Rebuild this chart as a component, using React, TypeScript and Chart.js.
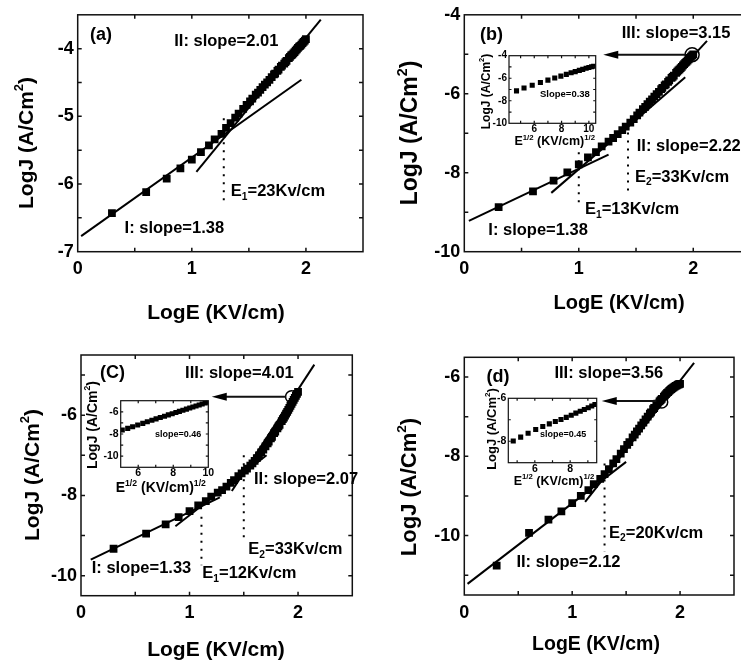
import React, { useEffect, useRef } from "react";
import { Chart, registerables } from "chart.js";

Chart.register(...registerables);

const FONT = '"Liberation Sans", Arial, Helvetica, sans-serif';

// ---------------- data ----------------
// shared field axis: LogE (KV/cm)
const logE = [
  0.30, 0.60, 0.78, 0.90, 1.00, 1.08, 1.15, 1.20, 1.26,
  1.30, 1.34, 1.38, 1.41, 1.45, 1.48, 1.51, 1.53, 1.56, 1.58,
  1.60, 1.62, 1.64, 1.66, 1.68, 1.70, 1.72, 1.73, 1.75, 1.76,
  1.78, 1.79, 1.81, 1.82, 1.83, 1.85, 1.86, 1.87, 1.88, 1.89,
  1.90, 1.91, 1.92, 1.93, 1.94, 1.95, 1.96, 1.97, 1.98, 1.99, 2.00,
];

const logJ_a = [
  -6.43, -6.12, -5.92, -5.77, -5.64, -5.53, -5.43, -5.34, -5.26,
  -5.17, -5.10, -5.02, -4.96, -4.89, -4.83, -4.78, -4.74, -4.68, -4.65,
  -4.61, -4.57, -4.53, -4.50, -4.46, -4.42, -4.38, -4.37, -4.33, -4.31,
  -4.27, -4.25, -4.22, -4.20, -4.18, -4.14, -4.12, -4.10, -4.09, -4.07,
  -4.05, -4.03, -4.01, -3.99, -3.97, -3.96, -3.94, -3.92, -3.90, -3.88, -3.86,
];

const logJ_b = [
  -8.87, -8.47, -8.20, -7.99, -7.79, -7.61, -7.48, -7.33, -7.21,
  -7.12, -7.02, -6.92, -6.83, -6.73, -6.64, -6.55, -6.48, -6.39, -6.33,
  -6.26, -6.20, -6.14, -6.07, -6.01, -5.95, -5.88, -5.85, -5.79, -5.76,
  -5.70, -5.66, -5.60, -5.57, -5.54, -5.47, -5.44, -5.41, -5.38, -5.35,
  -5.32, -5.28, -5.25, -5.22, -5.19, -5.16, -5.13, -5.09, -5.06, -5.03, -5.00,
];

const logJ_c = [
  -9.33, -8.95, -8.72, -8.54, -8.39, -8.25, -8.14, -8.03, -7.93,
  -7.87, -7.78, -7.69, -7.62, -7.52, -7.45, -7.38, -7.33, -7.26, -7.20,
  -7.14, -7.07, -7.00, -6.93, -6.86, -6.78, -6.70, -6.66, -6.58, -6.54,
  -6.45, -6.41, -6.33, -6.28, -6.24, -6.15, -6.10, -6.06, -6.01, -5.96,
  -5.92, -5.87, -5.82, -5.77, -5.72, -5.67, -5.62, -5.57, -5.52, -5.47, -5.42,
];

const logJ_d = [
  -10.76, -9.93, -9.60, -9.39, -9.18, -9.00, -8.85, -8.70, -8.57,
  -8.45, -8.32, -8.18, -8.07, -7.93, -7.82, -7.71, -7.64, -7.52, -7.45,
  -7.37, -7.30, -7.22, -7.15, -7.07, -7.00, -6.92, -6.89, -6.81, -6.78,
  -6.70, -6.67, -6.61, -6.58, -6.55, -6.49, -6.46, -6.43, -6.40, -6.38,
  -6.35, -6.32, -6.30, -6.28, -6.26, -6.24, -6.22, -6.21, -6.19, -6.18, -6.17,
];

// fitted straight lines (end points) and E-marker dotted lines
const fitA_I_x = [0.03, 1.96];
const fitA_I_y = [-6.77, -4.46];
const fitA_II_x = [1.04, 2.13];
const fitA_II_y = [-5.82, -3.57];
const markA_x = [1.28, 1.28];
const markA_y = [-5.03, -6.3];

const fitB_I_x = [0.04, 1.26];
const fitB_I_y = [-9.22, -7.54];
const fitB_II_x = [0.76, 1.93];
const fitB_II_y = [-8.51, -5.58];
const fitB_III_x = [1.45, 2.12];
const fitB_III_y = [-6.77, -4.66];
const markB1_x = [1.0, 1.0];
const markB1_y = [-7.48, -8.78];
const markB2_x = [1.43, 1.43];
const markB2_y = [-6.98, -8.45];
const circleB_x = [1.99];
const circleB_y = [-5.01];

const fitC_I_x = [0.09, 1.28];
const fitC_I_y = [-9.6, -8.05];
const fitC_II_x = [0.87, 1.71];
const fitC_II_y = [-8.77, -7.0];
const fitC_III_x = [1.39, 2.15];
const fitC_III_y = [-7.89, -4.74];
const markC1_x = [1.11, 1.11];
const markC1_y = [-8.53, -9.74];
const markC2_x = [1.5, 1.5];
const markC2_y = [-7.0, -9.12];
const circleC_x = [1.94];
const circleC_y = [-5.54];

const fitD_II_x = [0.03, 1.5];
const fitD_II_y = [-11.22, -8.14];
const fitD_III_x = [1.12, 2.13];
const fitD_III_y = [-9.15, -5.64];
const markD_x = [1.3, 1.3];
const markD_y = [-8.18, -10.41];
const circleD_x = [1.83];
const circleD_y = [-6.63];

// insets: LogJ vs E^1/2
const insetB_sqrtE = [4.7, 5.25, 5.85, 6.45, 7.0, 7.5, 7.95, 8.35, 8.7, 9.0, 9.3, 9.55, 9.8, 10.0, 10.2, 10.35];
const insetB_logJ = [-7.12, -6.86, -6.62, -6.38, -6.17, -5.98, -5.81, -5.66, -5.52, -5.41, -5.3, -5.21, -5.12, -5.05, -4.98, -4.93];

const insetC_sqrtE = [5.09, 5.4, 5.68, 5.97, 6.26, 6.52, 6.78, 7.02, 7.26, 7.5, 7.72, 7.94, 8.15, 8.35, 8.55, 8.75, 8.94, 9.12, 9.3, 9.48, 9.65, 9.82, 9.98];
const insetC_logJ = [-7.64, -7.49, -7.34, -7.19, -7.04, -6.89, -6.76, -6.64, -6.52, -6.4, -6.28, -6.17, -6.07, -5.96, -5.86, -5.76, -5.66, -5.57, -5.48, -5.39, -5.3, -5.21, -5.13];

const insetD_sqrtE = [4.78, 5.2, 5.62, 6.05, 6.45, 6.82, 7.16, 7.48, 7.78, 8.06, 8.32, 8.57, 8.8, 9.02, 9.22, 9.4];
const insetD_logJ = [-7.99, -7.81, -7.63, -7.45, -7.31, -7.19, -7.08, -6.99, -6.89, -6.79, -6.69, -6.6, -6.52, -6.44, -6.36, -6.29];

// ---------------- helpers ----------------
type Part = { t: string; s?: "sub" | "sup" };

const X_TITLE: Part[] = [{ t: "LogE (KV/cm)" }];
const Y_TITLE: Part[] = [{ t: "LogJ (A/Cm" }, { t: "2", s: "sup" }, { t: ")" }];
const INSET_X_TITLE: Part[] = [{ t: "E" }, { t: "1/2", s: "sup" }, { t: " (KV/cm)" }, { t: "1/2", s: "sup" }];

function drawRich(ctx: CanvasRenderingContext2D, parts: Part[], x: number, y: number, size: number, align: "left" | "center") {
  const small = size * 0.62;
  const ws = parts.map((p) => {
    ctx.font = `bold ${p.s ? small : size}px ${FONT}`;
    return ctx.measureText(p.t).width;
  });
  const total = ws.reduce((a, b) => a + b, 0);
  let cx = align === "center" ? x - total / 2 : x;
  ctx.textAlign = "left";
  ctx.textBaseline = "middle";
  parts.forEach((p, i) => {
    ctx.font = `bold ${p.s ? small : size}px ${FONT}`;
    const dy = p.s === "sub" ? size * 0.32 : p.s === "sup" ? -size * 0.36 : 0;
    ctx.fillText(p.t, cx, y + dy);
    cx += ws[i];
  });
}

const pts = (xs: number[], ys: number[]) => xs.map((x, i) => ({ x, y: ys[i] }));
const markerDs = (xs: number[], ys: number[], r: number) => ({
  data: pts(xs, ys), showLine: false, pointStyle: "rect", pointRadius: r,
  backgroundColor: "#000", borderColor: "#000", borderWidth: 0, order: 1,
});
const lineDs = (xs: number[], ys: number[]) => ({
  data: pts(xs, ys), showLine: true, borderColor: "#000", borderWidth: 2,
  pointRadius: 0, order: 0,
});
const dotDs = (xs: number[], ys: number[]) => ({
  data: pts(xs, ys), showLine: true, borderColor: "#000", borderWidth: 2,
  borderDash: [2, 6], pointRadius: 0, order: 0,
});
const circleDs = (xs: number[], ys: number[], r: number) => ({
  data: pts(xs, ys), showLine: false, pointStyle: "circle", pointRadius: r,
  backgroundColor: "#fff", borderColor: "#000", borderWidth: 1.5, order: 2,
});

const isMult = (v: number, k: number) => Math.abs(v / k - Math.round(v / k)) < 1e-6;

function buildConfig(spec: any) {
  const { rect, area } = spec;
  const mkTicks = (min: number, max: number, step: number) => {
    const out: { value: number }[] = [];
    let v = Math.ceil(min / step - 1e-9) * step;
    while (v <= max + 1e-9) {
      out.push({ value: Math.round(v * 1000) / 1000 });
      v += step;
    }
    return out;
  };
  const tickFont = { family: FONT, size: spec.tickSize, weight: "bold" as const };
  const decor = {
    id: "decor",
    beforeDatasetsDraw(chart: any) {
      if (!spec.whiteBg) return;
      const a = chart.chartArea;
      const ctx = chart.ctx;
      ctx.save();
      ctx.fillStyle = "#fff";
      ctx.fillRect(a.left, a.top, a.right - a.left, a.bottom - a.top);
      ctx.restore();
    },
    afterDraw(chart: any) {
      const ctx: CanvasRenderingContext2D = chart.ctx;
      const a = chart.chartArea;
      const xs = chart.scales.x;
      const ys = chart.scales.y;
      const L = spec.tickLen;
      ctx.save();
      ctx.strokeStyle = "#111";
      ctx.fillStyle = "#000";
      ctx.lineWidth = spec.frame;
      ctx.beginPath();
      for (const t of xs.ticks) {
        const p = xs.getPixelForValue(t.value);
        if (p <= a.left + 1 || p >= a.right - 1) continue;
        ctx.moveTo(p, a.bottom);
        ctx.lineTo(p, a.bottom - L);
        ctx.moveTo(p, a.top);
        ctx.lineTo(p, a.top + L);
      }
      for (const t of ys.ticks) {
        const p = ys.getPixelForValue(t.value);
        if (p <= a.top + 1 || p >= a.bottom - 1) continue;
        ctx.moveTo(a.left, p);
        ctx.lineTo(a.left + L, p);
        ctx.moveTo(a.right, p);
        ctx.lineTo(a.right - L, p);
      }
      ctx.stroke();
      ctx.strokeRect(a.left, a.top, a.right - a.left, a.bottom - a.top);

      // arrows (tip at x2,y2)
      for (const ar of spec.arrows) {
        const x1 = xs.getPixelForValue(ar.x1);
        const y1 = ys.getPixelForValue(ar.y1);
        const x2 = xs.getPixelForValue(ar.x2);
        const y2 = ys.getPixelForValue(ar.y2);
        const head = 15;
        const hw = 4;
        ctx.lineWidth = 2;
        ctx.beginPath();
        ctx.moveTo(x1, y1);
        ctx.lineTo(x2 + head - 1, y2);
        ctx.stroke();
        ctx.beginPath();
        ctx.moveTo(x2, y2);
        ctx.lineTo(x2 + head, y2 - hw);
        ctx.lineTo(x2 + head, y2 + hw);
        ctx.closePath();
        ctx.fill();
      }

      for (const lb of spec.labels) {
        drawRich(ctx, lb.parts, xs.getPixelForValue(lb.x), ys.getPixelForValue(lb.y), lb.size, "left");
      }
      const xt = spec.xTitle;
      drawRich(ctx, xt.parts, xt.x - rect.left, xt.y - rect.top, xt.size, "center");
      const yt = spec.yTitle;
      ctx.save();
      ctx.translate(yt.x - rect.left, yt.y - rect.top);
      ctx.rotate(-Math.PI / 2);
      drawRich(ctx, yt.parts, 0, 0, yt.size, "center");
      ctx.restore();
      ctx.restore();
    },
  };

  return {
    type: "scatter" as const,
    data: { datasets: spec.datasets },
    options: {
      animation: false as const,
      responsive: false,
      maintainAspectRatio: false,
      devicePixelRatio: 1,
      events: [],
      layout: {
        autoPadding: false,
        padding: {
          left: 0,
          top: area.t - rect.top,
          right: rect.left + rect.width - area.r,
          bottom: 0,
        },
      },
      plugins: { legend: { display: false }, tooltip: { enabled: false }, title: { display: false } },
      scales: {
        x: {
          type: "linear" as const,
          position: "bottom" as const,
          min: spec.x.min,
          max: spec.x.max,
          grid: { display: false, drawTicks: false },
          border: { display: false },
          afterBuildTicks: (s: any) => { s.ticks = mkTicks(spec.x.min, spec.x.max, spec.x.step); },
          afterFit: (s: any) => { s.height = rect.top + rect.height - area.b; },
          ticks: {
            autoSkip: false, maxRotation: 0, minRotation: 0, padding: spec.tickPadX,
            font: tickFont, color: "#000",
            callback: (v: any) => (isMult(Number(v), spec.x.every) ? String(Math.round(Number(v))) : ""),
          },
        },
        y: {
          type: "linear" as const,
          position: "left" as const,
          min: spec.y.min,
          max: spec.y.max,
          grid: { display: false, drawTicks: false },
          border: { display: false },
          afterBuildTicks: (s: any) => { s.ticks = mkTicks(spec.y.min, spec.y.max, spec.y.step); },
          afterFit: (s: any) => { s.width = area.l - rect.left; },
          ticks: {
            autoSkip: false, padding: spec.tickPadY,
            font: tickFont, color: "#000",
            callback: (v: any) => (isMult(Number(v), spec.y.every) ? String(Math.round(Number(v))) : ""),
          },
        },
      },
    },
    plugins: [decor],
  };
}

// ---------------- panel specs ----------------
const LBL = 16.5;
const MK = 5.5;

const panelA = {
  rect: { left: 0, top: 0, width: 370, height: 330 },
  area: { l: 77.7, t: 13.3, r: 365, b: 251.7 },
  x: { min: 0, max: 2.5, step: 0.5, every: 1 },
  y: { min: -7, max: -3.5, step: 0.5, every: 1 },
  tickSize: 18, tickPadX: 7, tickPadY: 4, tickLen: 4, frame: 1.5, whiteBg: false,
  datasets: [
    lineDs(fitA_I_x, fitA_I_y),
    lineDs(fitA_II_x, fitA_II_y),
    dotDs(markA_x, markA_y),
    markerDs(logE, logJ_a, MK),
  ],
  labels: [
    { x: 0.107, y: -3.8, parts: [{ t: "(a)" }], size: 18 },
    { x: 0.846, y: -3.9, parts: [{ t: "II: slope=2.01" }], size: LBL },
    { x: 1.342, y: -6.11, parts: [{ t: "E" }, { t: "1", s: "sub" }, { t: "=23Kv/cm" }], size: LBL },
    { x: 0.411, y: -6.66, parts: [{ t: "I: slope=1.38" }], size: LBL },
  ],
  arrows: [],
  xTitle: { parts: X_TITLE, x: 216, y: 313, size: 21 },
  yTitle: { parts: Y_TITLE, x: 27, y: 143, size: 21 },
};

const panelB = {
  rect: { left: 370, top: 0, width: 395, height: 330 },
  area: { l: 464.3, t: 13.3, r: 750.5, b: 251.7 },
  x: { min: 0, max: 2.5, step: 0.5, every: 1 },
  y: { min: -10, max: -4, step: 1, every: 2 },
  tickSize: 18, tickPadX: 7, tickPadY: 4, tickLen: 4, frame: 1.5, whiteBg: false,
  datasets: [
    lineDs(fitB_I_x, fitB_I_y),
    lineDs(fitB_II_x, fitB_II_y),
    lineDs(fitB_III_x, fitB_III_y),
    dotDs(markB1_x, markB1_y),
    dotDs(markB2_x, markB2_y),
    markerDs(logE, logJ_b, MK),
    circleDs(circleB_x, circleB_y, 7),
  ],
  labels: [
    { x: 0.137, y: -4.5, parts: [{ t: "(b)" }], size: 18 },
    { x: 1.375, y: -4.48, parts: [{ t: "III: slope=3.15" }], size: LBL },
    { x: 1.506, y: -7.33, parts: [{ t: "II: slope=2.22" }], size: LBL },
    { x: 1.491, y: -8.11, parts: [{ t: "E" }, { t: "2", s: "sub" }, { t: "=33Kv/cm" }], size: LBL },
    { x: 1.054, y: -8.93, parts: [{ t: "E" }, { t: "1", s: "sub" }, { t: "=13Kv/cm" }], size: LBL },
    { x: 0.21, y: -9.45, parts: [{ t: "I: slope=1.38" }], size: LBL },
  ],
  arrows: [{ x1: 1.93, y1: -5.01, x2: 1.214, y2: -5.01 }],
  xTitle: { parts: X_TITLE, x: 619, y: 303, size: 20 },
  yTitle: { parts: Y_TITLE, x: 411, y: 133, size: 23 },
};

const panelC = {
  rect: { left: 0, top: 330, width: 370, height: 332 },
  area: { l: 81, t: 355, r: 352.3, b: 595.7 },
  x: { min: 0, max: 2.5, step: 0.5, every: 1 },
  y: { min: -10.5, max: -4.5, step: 1, every: 2 },
  tickSize: 18, tickPadX: 7, tickPadY: 4, tickLen: 4, frame: 1.5, whiteBg: false,
  datasets: [
    lineDs(fitC_I_x, fitC_I_y),
    lineDs(fitC_II_x, fitC_II_y),
    lineDs(fitC_III_x, fitC_III_y),
    dotDs(markC1_x, markC1_y),
    dotDs(markC2_x, markC2_y),
    markerDs(logE, logJ_c, MK),
    circleDs(circleC_x, circleC_y, 6),
  ],
  labels: [
    { x: 0.175, y: -4.96, parts: [{ t: "(C)" }], size: 18 },
    { x: 0.959, y: -4.96, parts: [{ t: "III: slope=4.01" }], size: LBL },
    { x: 1.594, y: -7.6, parts: [{ t: "II: slope=2.07" }], size: LBL },
    { x: 1.542, y: -9.35, parts: [{ t: "E" }, { t: "2", s: "sub" }, { t: "=33Kv/cm" }], size: LBL },
    { x: 1.118, y: -9.95, parts: [{ t: "E" }, { t: "1", s: "sub" }, { t: "=12Kv/cm" }], size: LBL },
    { x: 0.099, y: -9.82, parts: [{ t: "I: slope=1.33" }], size: LBL },
  ],
  arrows: [{ x1: 1.89, y1: -5.54, x2: 1.205, y2: -5.54 }],
  xTitle: { parts: X_TITLE, x: 216, y: 650, size: 21 },
  yTitle: { parts: Y_TITLE, x: 33, y: 475, size: 21 },
};

const panelD = {
  rect: { left: 370, top: 330, width: 371, height: 332 },
  area: { l: 464.3, t: 357.3, r: 735.7, b: 595 },
  x: { min: 0, max: 2.5, step: 0.5, every: 1 },
  y: { min: -11.5, max: -5.5, step: 1, every: 2 },
  tickSize: 18, tickPadX: 7, tickPadY: 4, tickLen: 4, frame: 1.5, whiteBg: false,
  datasets: [
    lineDs(fitD_II_x, fitD_II_y),
    lineDs(fitD_III_x, fitD_III_y),
    dotDs(markD_x, markD_y),
    markerDs(logE, logJ_d, MK),
    circleDs(circleD_x, circleD_y, 6),
  ],
  labels: [
    { x: 0.206, y: -6.0, parts: [{ t: "(d)" }], size: 18 },
    { x: 0.835, y: -5.91, parts: [{ t: "III: slope=3.56" }], size: LBL },
    { x: 1.342, y: -9.94, parts: [{ t: "E" }, { t: "2", s: "sub" }, { t: "=20Kv/cm" }], size: LBL },
    { x: 0.483, y: -10.69, parts: [{ t: "II: slope=2.12" }], size: LBL },
  ],
  arrows: [{ x1: 1.78, y1: -6.6, x2: 1.274, y2: -6.6 }],
  xTitle: { parts: X_TITLE, x: 596, y: 645, size: 19.5 },
  yTitle: { parts: Y_TITLE, x: 410, y: 487, size: 22 },
};

const insetB = {
  rect: { left: 474, top: 46, width: 130, height: 108 },
  area: { l: 509, t: 55.7, r: 595.7, b: 123.3 },
  x: { min: 4.15, max: 10.5, step: 1, every: 2 },
  y: { min: -10, max: -4, step: 1, every: 2 },
  tickSize: 10, tickPadX: 0, tickPadY: 2, tickLen: 2.5, frame: 1.2, whiteBg: true,
  datasets: [markerDs(insetB_sqrtE, insetB_logJ, 3.6)],
  labels: [{ x: 6.42, y: -7.42, parts: [{ t: "Slope=0.38" }], size: 9.5 }],
  arrows: [],
  xTitle: { parts: INSET_X_TITLE, x: 554.7, y: 142, size: 12.5 },
  yTitle: { parts: Y_TITLE, x: 486.7, y: 91.5, size: 12 },
};

const insetC = {
  rect: { left: 80, top: 370, width: 135, height: 128 },
  area: { l: 120.7, t: 400.7, r: 208.3, b: 467.3 },
  x: { min: 5, max: 10, step: 1, every: 2 },
  y: { min: -11, max: -5, step: 1, every: 2 },
  tickSize: 10.5, tickPadX: 0, tickPadY: 2, tickLen: 2.5, frame: 1.2, whiteBg: true,
  datasets: [markerDs(insetC_sqrtE, insetC_logJ, 3.6)],
  labels: [{ x: 6.96, y: -8.03, parts: [{ t: "slope=0.46" }], size: 9 }],
  arrows: [],
  xTitle: { parts: INSET_X_TITLE, x: 160.8, y: 488.3, size: 14 },
  yTitle: { parts: Y_TITLE, x: 93, y: 425, size: 14 },
};

const insetD = {
  rect: { left: 474, top: 383, width: 130, height: 108 },
  area: { l: 508.3, t: 398.3, r: 596.7, b: 462.7 },
  x: { min: 4.5, max: 9.5, step: 1, every: 2 },
  y: { min: -9, max: -6, step: 1, every: 2 },
  tickSize: 10.5, tickPadX: 0, tickPadY: 2, tickLen: 2.5, frame: 1.2, whiteBg: true,
  datasets: [markerDs(insetD_sqrtE, insetD_logJ, 3.6)],
  labels: [{ x: 6.29, y: -7.68, parts: [{ t: "slope=0.45" }], size: 9 }],
  arrows: [],
  xTitle: { parts: INSET_X_TITLE, x: 554, y: 481.7, size: 12.5 },
  yTitle: { parts: Y_TITLE, x: 492.3, y: 429, size: 13 },
};

function PlotCanvas({ spec }: { spec: any }) {
  const ref = useRef<HTMLCanvasElement | null>(null);
  useEffect(() => {
    const c = ref.current;
    if (!c) return;
    const chart = new Chart(c, buildConfig(spec) as any);
    return () => chart.destroy();
  }, [spec]);
  const r = spec.rect;
  return (
    <canvas
      ref={ref}
      width={r.width}
      height={r.height}
      style={{ position: "absolute", left: r.left, top: r.top, width: r.width, height: r.height }}
    />
  );
}

export default function App() {
  return (
    <div
      style={{
        position: "absolute",
        left: 0,
        top: 0,
        width: 741,
        height: 662,
        overflow: "hidden",
        background: "#fff",
      }}
    >
      <PlotCanvas spec={panelA} />
      <PlotCanvas spec={panelB} />
      <PlotCanvas spec={panelC} />
      <PlotCanvas spec={panelD} />
      <PlotCanvas spec={insetB} />
      <PlotCanvas spec={insetC} />
      <PlotCanvas spec={insetD} />
    </div>
  );
}
